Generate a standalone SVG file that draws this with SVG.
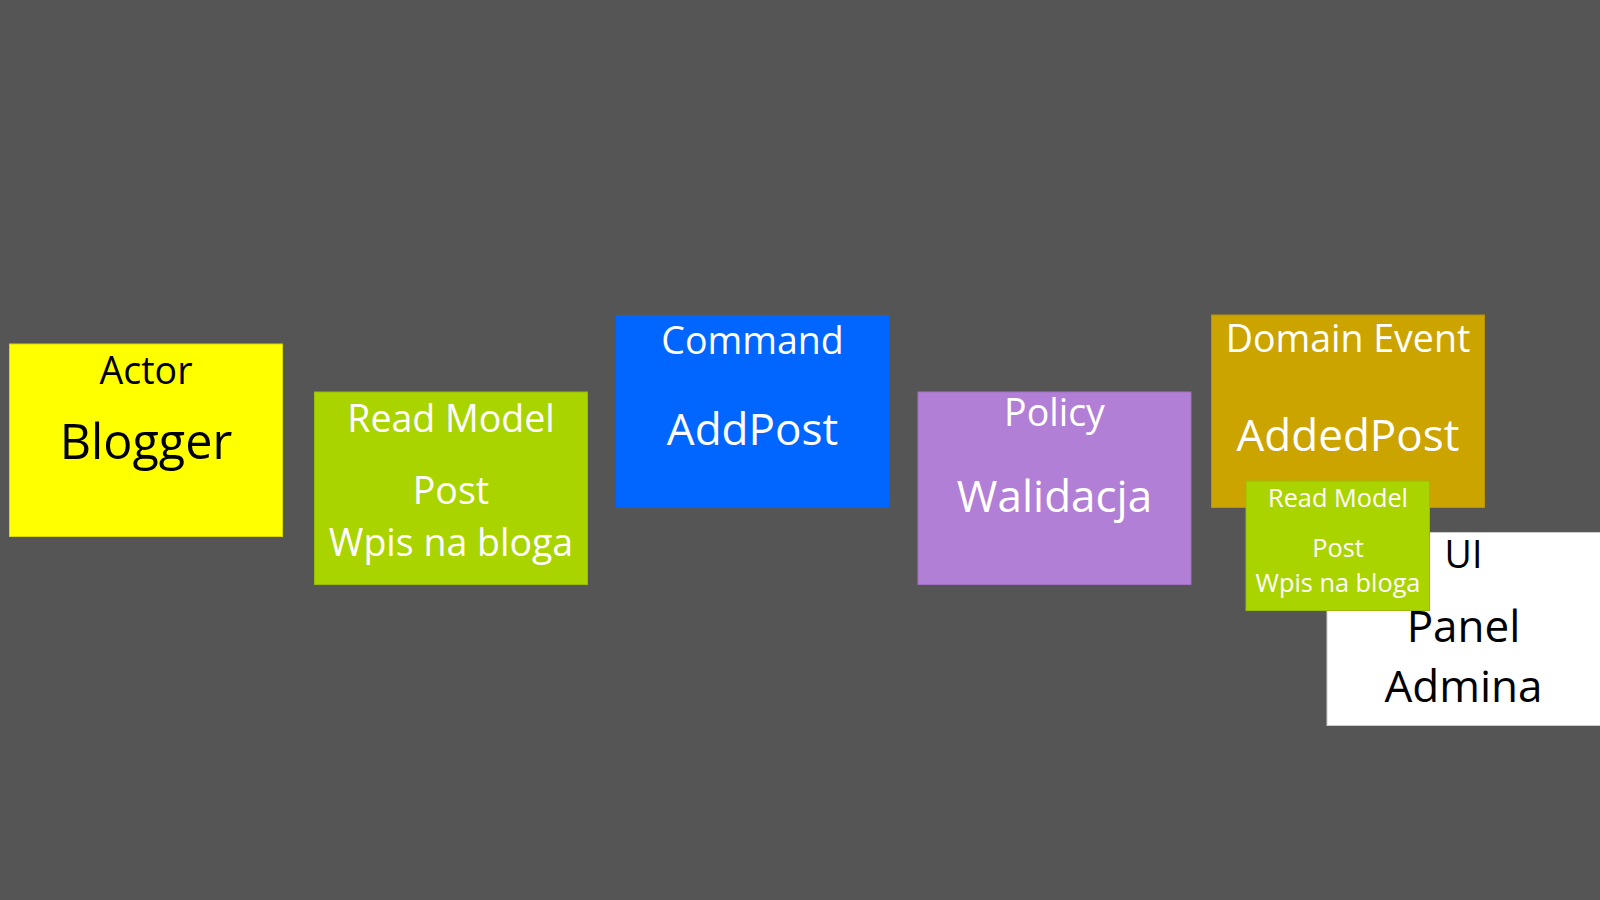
<svg xmlns="http://www.w3.org/2000/svg" width="1600" height="900" viewBox="0 0 1600 900">
  <style>
    text { font-family: "Open Sans", "Noto Sans", "DejaVu Sans", sans-serif; text-anchor: middle; }
    .w { fill: #ffffff; }
    .k { fill: #000000; }
    .h { font-size: 37.5px; }
    .b { font-size: 44px; }
    .s { font-size: 25.3px; }
  </style>
  <rect x="0" y="0" width="1600" height="900" fill="#555555"/>
  <g id="connectors"></g>
  <g id="actor">
    <rect x="9.5" y="344" width="273" height="192.5" fill="#ffff00" stroke="#d8d800" stroke-width="1"/>
    <text x="146" y="384" class="h k">Actor</text>
    <text x="146" y="459" class="k" font-size="48.5">Blogger</text>
  </g>
  <g id="read-model">
    <rect x="314.5" y="392" width="273" height="192.5" fill="#aad400" stroke="#98bd00" stroke-width="1"/>
    <text x="451" y="431.5" class="h w">Read Model</text>
    <text x="451" y="504" class="h w">Post</text>
    <text x="451" y="556" class="h w">Wpis na bloga</text>
  </g>
  <g id="command">
    <rect x="616" y="315" width="273" height="192.5" fill="#0066ff"/>
    <text x="752.5" y="354" class="h w">Command</text>
    <text x="752.5" y="444.5" class="b w">AddPost</text>
  </g>
  <g id="policy">
    <rect x="918" y="392" width="273" height="192.5" fill="#b27fd6" stroke="#a070c4" stroke-width="1"/>
    <text x="1054.5" y="425.5" class="h w">Policy</text>
    <text x="1054.5" y="511.5" class="b w">Walidacja</text>
  </g>
  <g id="domain-event">
    <rect x="1211.5" y="315" width="273" height="192.5" fill="#cca400" stroke="#b89400" stroke-width="1"/>
    <text x="1348" y="351.5" class="h w">Domain Event</text>
    <text x="1348" y="450.5" class="b w">AddedPost</text>
  </g>
  <g id="ui">
    <rect x="1327" y="532.5" width="274" height="193" fill="#ffffff" stroke="#cccccc" stroke-width="1"/>
    <text x="1463.5" y="568.3" class="h k">UI</text>
    <text x="1463.5" y="641.7" class="b k">Panel</text>
    <text x="1463.5" y="701.7" class="b k">Admina</text>
  </g>
  <g id="read-model-small">
    <rect x="1246" y="481" width="183.5" height="129.5" fill="#aad400" stroke="#98bd00" stroke-width="1"/>
    <text x="1338" y="507.3" class="s w">Read Model</text>
    <text x="1338" y="556.7" class="s w">Post</text>
    <text x="1338" y="591.7" class="s w">Wpis na bloga</text>
  </g>
</svg>
